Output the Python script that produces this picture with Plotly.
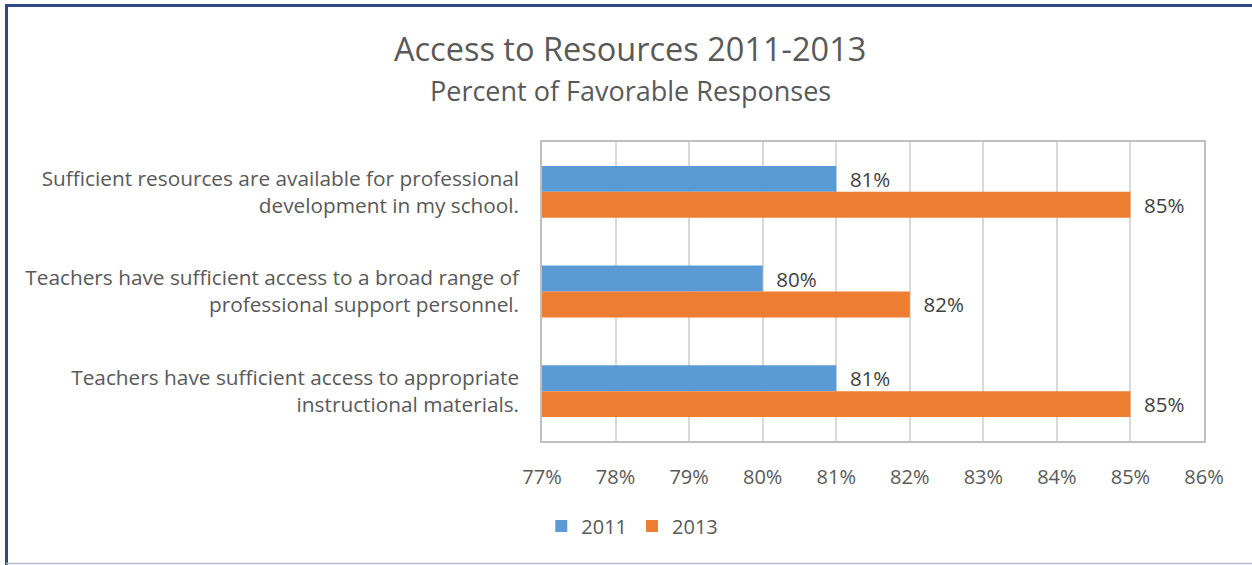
import plotly.graph_objects as go

categories = [
    "Sufficient resources are available for professional<br>development in my school.",
    "Teachers have sufficient access to a broad range of<br>professional support personnel.",
    "Teachers have sufficient access to appropriate<br>instructional materials.",
]
series_names = ["2011", "2013"]
values_2011 = [0.81, 0.80, 0.81]
values_2013 = [0.85, 0.82, 0.85]
colors = ["#5B9BD5", "#ED7D31"]
x_ticks = [0.77, 0.78, 0.79, 0.80, 0.81, 0.82, 0.83, 0.84, 0.85, 0.86]

FONT = "Open Sans"
W, H = 1252, 565
L, R, T, B = 542, 48, 142, 124
PW, PH = W - L - R, H - T - B

def px_to_paper_x(px):
    return (px - L) / PW

def px_to_paper_y(py):
    return (H - B - py) / PH

fig = go.Figure()
for name, vals, col in zip(series_names, [values_2011, values_2013], colors):
    fig.add_trace(go.Bar(
        name=name, y=categories, x=vals, orientation="h",
        marker=dict(color=col, line=dict(width=0)),
        text=["\u00a0\u00a0" + f"{v:.0%}" for v in vals],
        textposition="outside", constraintext="none", cliponaxis=False,
        textfont=dict(family=FONT, size=20.5, color="#404040"),
    ))

fig.update_layout(
    width=W, height=H,
    margin=dict(l=L, r=R, t=T, b=B, pad=0),
    paper_bgcolor="white", plot_bgcolor="white",
    barmode="group", bargap=0.48, bargroupgap=0,
    font=dict(family=FONT, color="#595959"),
    showlegend=True,
    legend=dict(orientation="h", xref="container", yref="container",
                x=0.505, y=1 - 526 / H, xanchor="center", yanchor="middle",
                font=dict(family=FONT, size=20, color="#595959"),
                itemsizing="constant", traceorder="normal"),
    xaxis=dict(range=[0.77, 0.86], tickvals=x_ticks, tickformat=".0%",
               showgrid=True, gridcolor="#D9D9D9", gridwidth=1.5,
               showline=True, linecolor="#BFBFBF", linewidth=1.5, mirror=True,
               zeroline=False, ticks="", ticklabelstandoff=17,
               tickfont=dict(family=FONT, size=20, color="#595959")),
    yaxis=dict(autorange="reversed", showgrid=False,
               showline=True, linecolor="#BFBFBF", linewidth=1.5, mirror=True,
               ticks="", ticklabelstandoff=17,
               tickfont=dict(family=FONT, size=20.8, color="#595959")),
    annotations=[
        dict(text="Access to Resources 2011-2013", xref="paper", yref="paper",
             x=px_to_paper_x(630), y=px_to_paper_y(48), xanchor="center", yanchor="middle",
             showarrow=False, font=dict(family=FONT, size=32.5, color="#595959")),
        dict(text="Percent of Favorable Responses", xref="paper", yref="paper",
             x=px_to_paper_x(630), y=px_to_paper_y(91), xanchor="center", yanchor="middle",
             showarrow=False, font=dict(family=FONT, size=27, color="#595959")),
    ],
    shapes=[
        dict(type="line", xref="paper", yref="paper",
             x0=px_to_paper_x(6), x1=px_to_paper_x(1260),
             y0=px_to_paper_y(5.5), y1=px_to_paper_y(5.5),
             line=dict(color="#2F4A7F", width=3)),
        dict(type="line", xref="paper", yref="paper",
             x0=px_to_paper_x(6.5), x1=px_to_paper_x(6.5),
             y0=px_to_paper_y(4), y1=px_to_paper_y(570),
             line=dict(color="#2F4A7F", width=3)),
        dict(type="line", xref="paper", yref="paper",
             x0=px_to_paper_x(6), x1=px_to_paper_x(1260),
             y0=px_to_paper_y(563.5), y1=px_to_paper_y(563.5),
             line=dict(color="#B4BDD0", width=1.5)),
    ],
)

fig.write_html("out.html")
